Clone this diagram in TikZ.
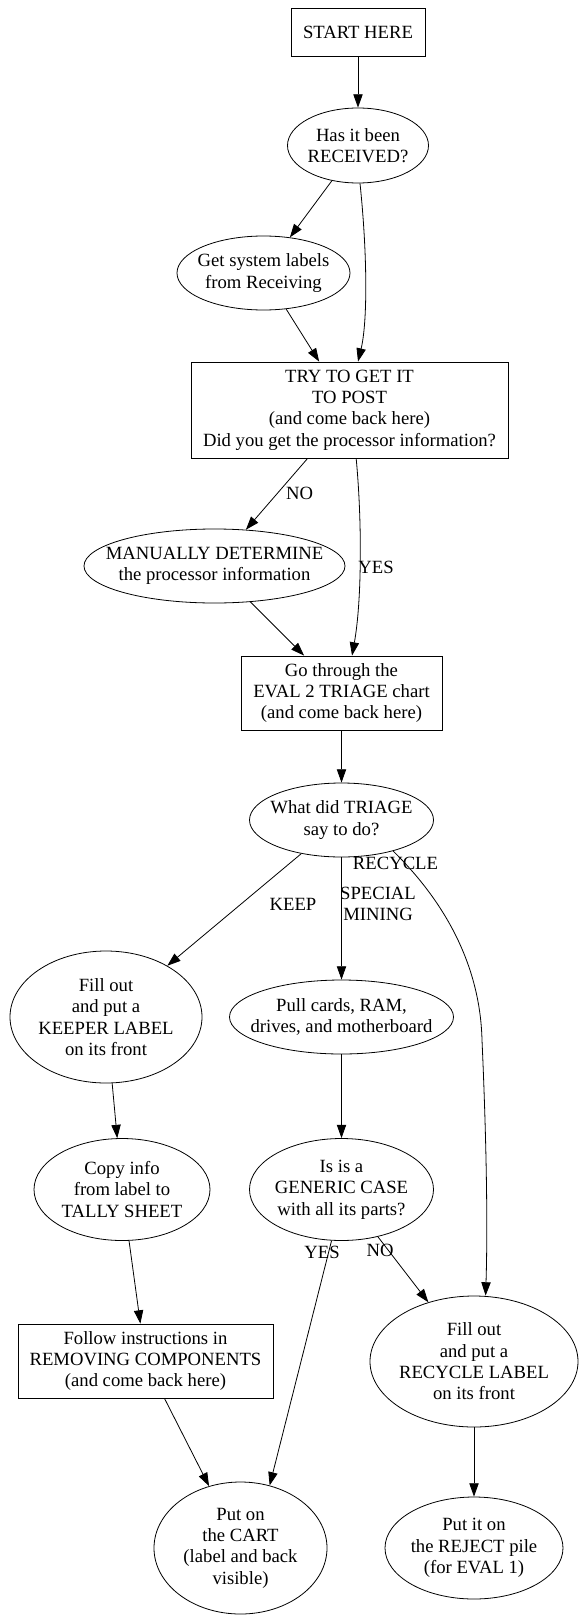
\documentclass[tikz,border=0pt]{standalone}
\usepackage{fontspec}
\setmainfont{Liberation Serif}
\usetikzlibrary{arrows.meta,shapes.geometric}
\begin{document}
\begin{tikzpicture}[x=0.75pt,y=-0.75pt,
  font=\fontsize{14pt}{16pt}\selectfont, line width=0.6pt,
  ell/.style 2 args={draw, ellipse, inner sep=0pt, minimum width={(#1)*1.5pt}, minimum height={(#2)*1.5pt}},
  box/.style 2 args={draw, rectangle, inner sep=0pt, minimum width={(#1)*0.75pt}, minimum height={(#2)*0.75pt}, align=center},
  txt/.style={align=center, inner sep=0pt},
  elab/.style={align=center, inner sep=0pt},
  arr/.style={-{Triangle[length=10pt,width=7pt]}}]
\useasboundingbox (0,0) rectangle (584,1623);

% nodes
\node[box={134}{48}] (start) at (358,32.5) {START HERE};
\node[ell={70.5}{37.5}] (recv) at (358,145.5) {};
\node[txt] (recvt) at (recv) {Has it been\\RECEIVED?};
\node[ell={86.5}{37}] (getlab) at (263.5,273) {};
\node[txt] (getlabt) at (getlab) {Get system labels\\from Receiving};
\node[box={317}{96}] (try) at (349.5,410) {TRY TO GET IT\\TO POST\\(and come back here)\\Did you get the processor information?};
\node[ell={130.5}{37}] (manual) at (214.5,566) {};
\node[txt] (manualt) at (manual) {MANUALLY DETERMINE\\the processor information};
\node[box={201}{74}] (go) at (341.5,693) {Go through the\\EVAL 2 TRIAGE chart\\(and come back here)};
\node[ell={92}{37}] (triage) at (341.5,820) {};
\node[txt] (triaget) at (triage) {What did TRIAGE\\say to do?};
\node[ell={96}{66}] (keeper) at (106,1017) {};
\node[txt] (keepert) at (keeper) {Fill out\\and put a\\KEEPER LABEL\\on its front};
\node[ell={112}{37}] (pull) at (341.5,1017) {};
\node[txt] (pullt) at (pull) {Pull cards, RAM,\\drives, and motherboard};
\node[ell={88}{51}] (copy) at (122,1189.5) {};
\node[txt] (copyt) at (copy) {Copy info\\from label to\\TALLY SHEET};
\node[ell={92}{51}] (generic) at (341.5,1189.5) {};
\node[txt] (generict) at (generic) {Is is a\\GENERIC CASE\\with all its parts?};
\node[box={255}{74}] (follow) at (145.5,1361) {Follow instructions in\\REMOVING COMPONENTS\\(and come back here)};
\node[ell={104}{65.5}] (recyc) at (474,1361.5) {};
\node[txt] (recyct) at (recyc) {Fill out\\and put a\\RECYCLE LABEL\\on its front};
\node[ell={86.5}{66}] (cart) at (240.5,1548) {};
\node[txt] (cartt) at (cart) {Put on\\the CART\\(label and back\\visible)};
\node[ell={89}{51}] (reject) at (474,1548) {};
\node[txt] (rejectt) at (reject) {Put it on\\the REJECT pile\\(for EVAL 1)};

% edge labels
\node[elab] (lno) at (299.5,493) {NO};
\node[elab] (lyes) at (376,567) {YES};
\node[elab] (lrec) at (395.5,863) {RECYCLE};
\node[elab] (lkeep) at (293,904) {KEEP};
\node[elab] (lsm) at (378,904) {SPECIAL\\MINING};
\node[elab] (lyes2) at (322,1252) {YES};
\node[elab] (lno2) at (380,1250) {NO};

% edges
\draw[arr] (start) -- (recv);
\draw[arr] (recv) -- (getlab);
\draw[arr] ([xshift=1.5pt]recv.south) .. controls (367,250) and (368,320) .. ([xshift=6.4pt]try.north);
\draw[arr] (getlab) -- (try);
\draw[arr] (try) -- (manual);
\draw[arr] ([xshift=5pt]try.south) .. controls (362,520) and (362,600) .. ([xshift=7.9pt]go.north);
\draw[arr] (manual) -- (go);
\draw[arr] (go) -- (triage);
\draw[arr] (triage) -- (keeper);
\draw[arr] (triage) -- (pull);
\draw[arr] (triage.-31.8) .. controls (440,897) and (480,960) .. (482,1040) .. controls (486,1130) and (488,1220) .. ([xshift=8.7pt]recyc.north);
\draw[arr] (keeper) -- (copy);
\draw[arr] (pull) -- (generic);
\draw[arr] (copy) -- (follow);
\draw[arr] (generic.-101) -- (cart.65.6);
\draw[arr] (generic) -- (recyc);
\draw[arr] (follow) -- (cart);
\draw[arr] (recyc) -- (reject);
\end{tikzpicture}
\end{document}
